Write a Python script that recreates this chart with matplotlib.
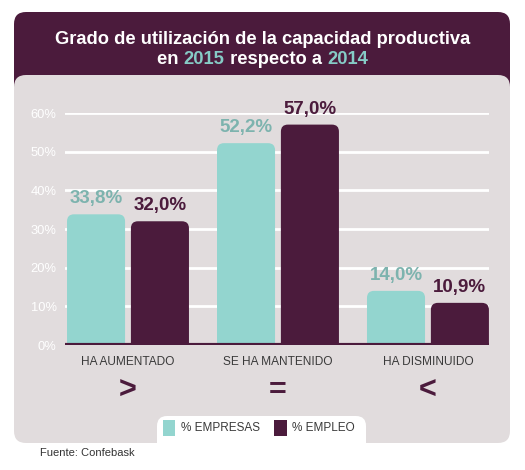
import matplotlib.pyplot as plt
from matplotlib.patches import FancyBboxPatch, Rectangle
import numpy as np

categories = ['HA AUMENTADO', 'SE HA MANTENIDO', 'HA DISMINUIDO']
symbols = ['>', '=', '<']
empresas = [33.8, 52.2, 14.0]
empleo = [32.0, 57.0, 10.9]
series_names = ['% EMPRESAS', '% EMPLEO']
yticks = [0, 10, 20, 30, 40, 50, 60]

TEAL = '#93d5cf'
TEAL_TITLE = '#86cbc6'
TEAL_TXT = '#7db3ae'
PURPLE = '#4b1b3c'
PANEL = '#e1dcdd'
W, H = 525, 470

plt.rcParams['font.family'] = ['Liberation Sans', 'DejaVu Sans']

fig = plt.figure(figsize=(W / 100, H / 100), dpi=100)
fig.patch.set_facecolor('white')


def fx(x):
    return x / W


def fy(y):
    return 1 - y / H


def fbox(x0, y0, x1, y1, color, r=10, z=-2):
    p = FancyBboxPatch((fx(x0), fy(y1)), fx(x1) - fx(x0), fy(y0) - fy(y1),
                       boxstyle='round,pad=0,rounding_size=%f' % (r / W),
                       mutation_aspect=W / H, transform=fig.transFigure,
                       facecolor=color, edgecolor='none', zorder=z)
    fig.patches.append(p)


# background panels
fbox(14, 12, 510, 100, PURPLE, r=12, z=-3)
fbox(14, 75, 510, 443, PANEL, r=12, z=-2)
fbox(157, 416, 366, 455, 'white', r=10, z=-1)

# title
fig.text(0.5, fy(39), 'Grado de utilización de la capacidad productiva',
         ha='center', va='center', color='white', fontsize=13.2, fontweight='bold')
parts = [('en ', 'white'), ('2015', TEAL_TITLE), (' respecto a ', 'white'), ('2014', TEAL_TITLE)]
renderer = fig.canvas.get_renderer()
texts = []
for s, c in parts:
    texts.append(fig.text(0, fy(60), s, ha='left', va='center', color=c,
                          fontsize=13.2, fontweight='bold'))
widths = [t.get_window_extent(renderer).width / W for t in texts]
x = 0.5 - sum(widths) / 2
for t, w in zip(texts, widths):
    t.set_x(x)
    x += w

# axes
ax = fig.add_axes([fx(65), fy(345), fx(489) - fx(65), fy(113) - fy(345)])
ax.set_facecolor('none')
xs = np.arange(len(categories))
bw = 0.387
off = 0.213
b1 = ax.bar(xs - off, empresas, bw, color=TEAL, zorder=3)
b2 = ax.bar(xs + off, empleo, bw, color=PURPLE, zorder=3)

# rounded tops
rx = 7 / 150
asp = 150 / 3.87
for bars in (b1, b2):
    for r in bars:
        r.set_visible(False)
        p = FancyBboxPatch((r.get_x(), -3), r.get_width(), r.get_height() + 3,
                           boxstyle='round,pad=0,rounding_size=%f' % rx,
                           mutation_aspect=asp, facecolor=r.get_facecolor(),
                           edgecolor='none', zorder=3)
        ax.add_patch(p)

for xi, v in zip(xs - off, empresas):
    ax.annotate(('%.1f%%' % v).replace('.', ','), (xi, v), xytext=(0, 5),
                textcoords='offset points', ha='center', va='bottom',
                color=TEAL_TXT, fontsize=13.5, fontweight='bold', annotation_clip=False)
for xi, v in zip(xs + off, empleo):
    ax.annotate(('%.1f%%' % v).replace('.', ','), (xi, v), xytext=(0, 5),
                textcoords='offset points', ha='center', va='bottom',
                color=PURPLE, fontsize=13.5, fontweight='bold', annotation_clip=False)

ax.set_xlim(-0.42, 2.407)
ax.set_ylim(0, 60)
ax.set_yticks(yticks)
ax.set_yticklabels(['%d%%' % t for t in yticks], color='white', fontsize=9.3)
for t in yticks[1:]:
    ax.axhline(t, color='white', lw=2, zorder=1)
ax.axhline(0, color=PURPLE, lw=3, zorder=4)
ax.tick_params(axis='y', length=0, pad=6)
ax.set_xticks(xs)
ax.set_xticklabels(categories, color='#3a3a3a', fontsize=8.6)
ax.tick_params(axis='x', length=0, pad=8)
for s in ax.spines.values():
    s.set_visible(False)

for xi, sym in zip(xs, symbols):
    ax.annotate(sym, (xi, 0), xycoords=('data', 'axes fraction'), xytext=(0, -33),
                textcoords='offset points', ha='center', va='center',
                color=PURPLE, fontsize=22, fontweight='heavy', annotation_clip=False)

# legend
fig.patches.append(Rectangle((fx(163), fy(436)), fx(175) - fx(163), fy(420) - fy(436),
                             transform=fig.transFigure, facecolor=TEAL, edgecolor='none'))
fig.text(fx(181), fy(428), series_names[0], ha='left', va='center', color='#3a3a3a', fontsize=8.5)
fig.patches.append(Rectangle((fx(274), fy(436)), fx(287) - fx(274), fy(420) - fy(436),
                             transform=fig.transFigure, facecolor=PURPLE, edgecolor='none'))
fig.text(fx(292), fy(428), series_names[1], ha='left', va='center', color='#3a3a3a', fontsize=8.5)

fig.text(fx(40), fy(453), 'Fuente: Confebask', ha='left', va='center', color='#333333', fontsize=8)

fig.savefig('out.png', dpi=100, facecolor='white')
